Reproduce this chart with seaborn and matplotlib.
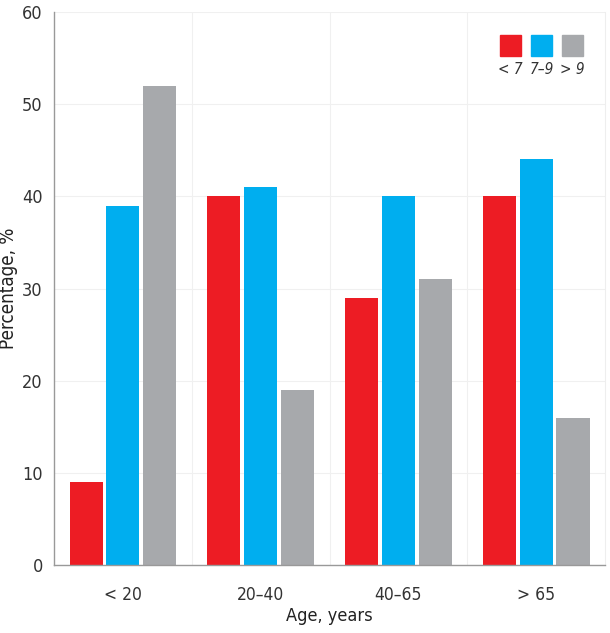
import pandas as pd
import seaborn as sns
import matplotlib.pyplot as plt
import matplotlib.patches as mpatches
from matplotlib.ticker import FixedLocator

ages = ['< 20', '20\u201340', '40\u201365', '> 65']
groups = ['< 7', '7\u20139', '> 9']
lt7 = [9, 40, 29, 40]
mid = [39, 41, 40, 44]
gt9 = [52, 19, 31, 16]
colors = ['#ED1C24', '#00AEEF', '#A7A9AC']

df = pd.DataFrame({
    'age': ages * 3,
    'group': [groups[0]] * 4 + [groups[1]] * 4 + [groups[2]] * 4,
    'pct': lt7 + mid + gt9,
})

sns.set_style('white')
plt.rcParams['font.family'] = ['DejaVu Sans']
plt.rcParams['font.stretch'] = 'condensed'

fig = plt.figure(figsize=(6.1, 6.33), dpi=100)
ax = fig.add_axes([0.0885, 0.1074, 0.9035, 0.8736])
sns.barplot(data=df, x='age', y='pct', hue='group', palette=colors,
            width=0.8, gap=0.1, linewidth=0, saturation=1, ax=ax, legend=False)

ax.set_ylim(0, 60)
ax.set_xlim(-0.5, 3.5)
ax.set_yticks(range(0, 61, 10))
ax.xaxis.set_minor_locator(FixedLocator([0.5, 1.5, 2.5]))
ax.grid(axis='y', color='#f0f0f0', linewidth=0.8)
ax.grid(axis='x', which='minor', color='#f0f0f0', linewidth=0.8)
ax.set_axisbelow(True)
ax.tick_params(axis='y', which='both', length=0, labelsize=13, colors='#333333', pad=8)
ax.tick_params(axis='x', which='both', length=0, labelsize=12.5, colors='#333333', pad=15)
for s in ['left', 'bottom']:
    ax.spines[s].set_color('#999999')
    ax.spines[s].set_linewidth(1)
ax.spines['top'].set_visible(False)
ax.spines['right'].set_color('#eeeeee')
ax.set_xlabel('Age, years', fontsize=13, color='#222222', labelpad=2)
ax.set_ylabel('Percentage, %', fontsize=13.5, color='#222222', labelpad=3)

# legend: squares with labels underneath
for i, (g, c) in enumerate(zip(groups, colors)):
    x0 = 500 + i * 31
    fig.patches.append(mpatches.Rectangle((x0 / 610, 1 - 56 / 633), 21 / 610, 21 / 633,
                                          transform=fig.transFigure, color=c, zorder=5))
    fig.text((x0 + 10.5) / 610, 1 - 70 / 633, g, ha='center', va='center',
             fontsize=11, style='italic', color='#333333')

fig.savefig('out.png', dpi=100)
